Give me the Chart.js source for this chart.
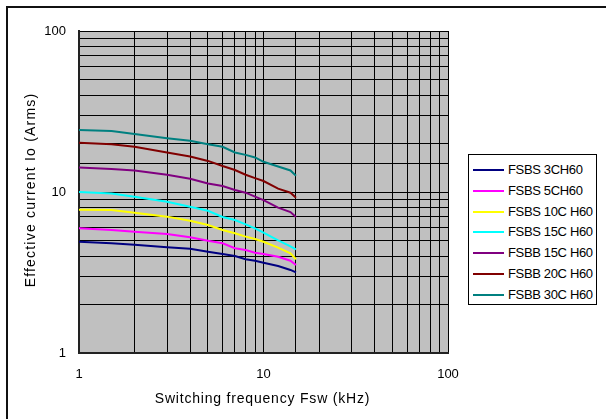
<!DOCTYPE html>
<html>
<head>
<meta charset="utf-8">
<script src="https://cdn.jsdelivr.net/npm/chart.js@4.4.0/dist/chart.umd.min.js"></script>
<style>
  body { margin: 0; background: #fff; overflow: hidden; }
  #wrap { position: relative; width: 606px; height: 419px; overflow: hidden;
          font-family: "Liberation Sans", Arial, sans-serif; color: #000; }
  #frame { position: absolute; left: 6px; top: 6px; width: 700px; height: 500px;
           border-left: 2px solid #111; border-top: 2px solid #111; }
  #chart { position: absolute; left: 0; top: 0; }
  .axisTitle { position: absolute; font-size: 14px; line-height: 16px; height: 16px;
               text-align: center; white-space: nowrap; }
  #xTitle { left: 78px; width: 369px; top: 390px; letter-spacing: 0.8px; }
  #yTitle { left: -120px; width: 300px; top: 182px; letter-spacing: 1.2px;
            transform: rotate(-90deg); }
  #legend { position: absolute; left: 468px; top: 154px; width: 129px; height: 151px;
            box-sizing: border-box; border: 1px solid #000; background: #fff; }
  .row { position: absolute; left: 0; height: 16px; font-size: 13px; line-height: 16px;
         white-space: nowrap; letter-spacing: -0.35px; }
  .row .swatch { position: absolute; left: 4px; top: 7px; width: 31px; height: 2px; }
  .row .lbl { position: absolute; left: 39px; top: 0; }
</style>
</head>
<body>
<div id="wrap">
  <div id="frame"></div>
  <canvas id="chart" width="606" height="419"></canvas>
  <div class="axisTitle" id="yTitle">Effective current Io (Arms)</div>
  <div class="axisTitle" id="xTitle">Switching frequency Fsw (kHz)</div>
  <div id="legend"></div>
</div>
<script>
// switching frequency (kHz) where the curves were read
const freqs = [1, 1.5, 2, 3, 4, 5, 6, 7, 8, 9, 10, 12, 14, 15];

// effective current Io (Arms) per device
const fsbs3ch60  = [4.91, 4.80, 4.71, 4.54, 4.44, 4.26, 4.12, 4.00, 3.82, 3.74, 3.64, 3.47, 3.28, 3.17];
const fsbs5ch60  = [5.95, 5.81, 5.67, 5.48, 5.23, 4.98, 4.80, 4.47, 4.36, 4.20, 4.12, 3.96, 3.74, 3.52];
const fsbs10ch60 = [7.76, 7.73, 7.44, 7.03, 6.63, 6.24, 5.81, 5.54, 5.28, 5.11, 4.91, 4.51, 4.16, 3.82];
const fsbs15ch60 = [10.0, 9.8, 9.35, 8.7, 8.1, 7.65, 7.0, 6.7, 6.3, 5.95, 5.6, 5.0, 4.6, 4.4];
const fsbb15ch60 = [14.2, 13.9, 13.6, 12.8, 12.1, 11.3, 10.9, 10.3, 9.9, 9.35, 8.9, 8.0, 7.5, 7.0];
const fsbb20ch60 = [20.2, 19.8, 19.1, 17.6, 16.6, 15.6, 14.5, 13.7, 12.8, 12.2, 11.7, 10.5, 9.9, 9.2];
const fsbb30ch60 = [24.3, 23.9, 22.9, 21.6, 20.8, 19.8, 19.1, 17.6, 17.0, 16.4, 15.4, 14.4, 13.6, 12.6];

const seriesNames = ["FSBS 3CH60", "FSBS 5CH60", "FSBS 10C H60", "FSBS 15C H60",
                     "FSBB 15C H60", "FSBB 20C H60", "FSBB 30C H60"];
const seriesValues = [fsbs3ch60, fsbs5ch60, fsbs10ch60, fsbs15ch60, fsbb15ch60, fsbb20ch60, fsbb30ch60];
const seriesColors = ["#000080", "#FF00FF", "#FFFF00", "#00FFFF", "#800080", "#800000", "#008080"];

const decadeTicks = [1, 10, 100];

Chart.defaults.font.family = '"Liberation Sans", Arial, sans-serif';
Chart.defaults.font.size = 13;
Chart.defaults.color = "#000";

// grey plot area
const plotBackground = {
  id: "plotBackground",
  beforeDraw(chart) {
    const { ctx, chartArea: a } = chart;
    ctx.save();
    ctx.fillStyle = "#C0C0C0";
    ctx.fillRect(a.left, a.top, a.right - a.left, a.bottom - a.top);
    ctx.restore();
  },
};

function decadeLabel(value) {
  return decadeTicks.includes(value) ? String(value) : "";
}

const datasets = seriesNames.map((name, i) => ({
  label: name,
  data: freqs.map((f, j) => ({ x: f, y: seriesValues[i][j] })),
  borderColor: seriesColors[i],
  backgroundColor: seriesColors[i],
  borderWidth: 2,
  pointRadius: 0,
  tension: 0,
  fill: false,
}));

new Chart(document.getElementById("chart"), {
  type: "line",
  data: { datasets },
  options: {
    responsive: false,
    animation: false,
    layout: { padding: { left: 0, top: 31, right: 158, bottom: 0 } },
    plugins: { legend: { display: false }, tooltip: { enabled: false } },
    scales: {
      x: {
        type: "logarithmic",
        min: 1,
        max: 100,
        grid: { color: "#000", lineWidth: 1, drawTicks: false },
        border: { color: "#222", width: 2 },
        ticks: { autoSkip: false, maxRotation: 0, padding: 14, callback: decadeLabel },
        afterFit(scale) { scale.height = 66; },
      },
      y: {
        type: "logarithmic",
        min: 1,
        max: 100,
        grid: { color: "#000", lineWidth: 1, drawTicks: false },
        border: { color: "#222", width: 2 },
        ticks: { autoSkip: false, padding: 13, callback: decadeLabel },
        afterFit(scale) { scale.width = 79; },
      },
    },
  },
  plugins: [plotBackground],
});

// legend box on the right
const legend = document.getElementById("legend");
seriesNames.forEach((name, i) => {
  const row = document.createElement("div");
  row.className = "row";
  row.style.top = (7 + i * 20.8) + "px";
  row.innerHTML = '<span class="swatch" style="background:' + seriesColors[i] + '"></span>' +
                  '<span class="lbl">' + name + '</span>';
  legend.appendChild(row);
});
</script>
</body>
</html>
